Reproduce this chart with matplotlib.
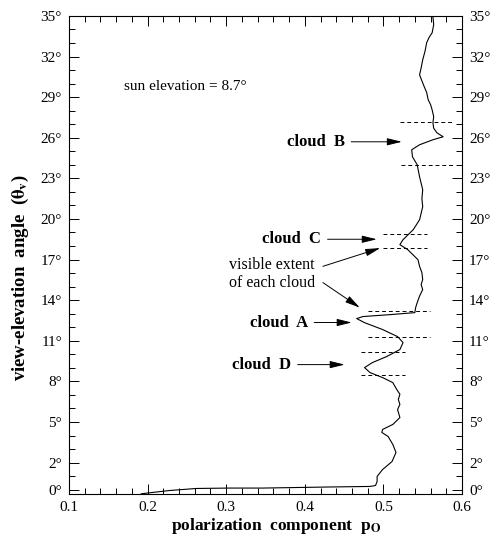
import numpy as np
import matplotlib
matplotlib.use('Agg')
import matplotlib.pyplot as plt
from matplotlib.ticker import FixedLocator, MultipleLocator

plt.rcParams['font.family'] = ['Liberation Serif', 'DejaVu Serif']
plt.rcParams['mathtext.fontset'] = 'stix'

# profile: view-elevation angle (deg) vs polarization p_O
theta = [-0.30, -0.06, 0.09, 0.12, 0.12, 0.20, 0.24, 0.31, 0.61, 0.98, 1.49, 2.08,
         2.75, 3.34, 3.93, 4.23, 4.45, 4.82, 5.33, 5.92, 6.30, 6.66, 7.05, 7.40,
         7.91, 8.28, 8.65, 9.02, 9.39, 9.83, 10.35, 10.87, 11.31, 11.83, 12.34,
         12.64, 12.79, 12.93, 13.08, 13.45, 13.82, 14.30, 14.78, 15.15, 15.52,
         16.03, 16.50, 16.99, 17.73, 18.10, 18.47, 19.21, 19.94, 20.90, 21.50,
         22.16, 23.12, 24.00, 24.59, 25.11, 25.48, 25.85, 26.07, 26.37, 26.70,
         27.10, 27.55, 28.06, 28.45, 28.80, 29.35, 29.76, 30.20, 30.65, 31.15,
         31.75, 32.40, 33.01, 33.40, 33.75, 34.35, 34.93]
p_o = [0.192, 0.228, 0.262, 0.304, 0.346, 0.432, 0.483, 0.490, 0.492, 0.492,
       0.499, 0.511, 0.516, 0.512, 0.506, 0.498, 0.499, 0.512, 0.521, 0.518,
       0.521, 0.519, 0.521, 0.517, 0.512, 0.499, 0.483, 0.476, 0.486, 0.504,
       0.521, 0.525, 0.518, 0.499, 0.476, 0.466, 0.474, 0.508, 0.540, 0.541,
       0.543, 0.546, 0.550, 0.548, 0.550, 0.549, 0.546, 0.544, 0.531, 0.521,
       0.525, 0.538, 0.546, 0.550, 0.549, 0.550, 0.546, 0.543, 0.537, 0.536,
       0.546, 0.563, 0.576, 0.568, 0.564, 0.563, 0.564, 0.562, 0.560, 0.557,
       0.555, 0.552, 0.549, 0.546, 0.548, 0.550, 0.553, 0.555, 0.558, 0.562,
       0.564, 0.563]

# visible extent of each cloud (dashed lines): angle, p start, p end
extent_theta = [27.18, 24.00, 18.90, 17.88, 13.23, 11.31, 10.20, 8.50]
extent_p0 = [0.521, 0.523, 0.499, 0.499, 0.480, 0.480, 0.472, 0.472]
extent_p1 = [0.589, 0.589, 0.555, 0.555, 0.559, 0.559, 0.527, 0.527]

cloud_names = ['cloud  B', 'cloud  C', 'cloud  A', 'cloud  D']
cloud_theta = [25.7, 18.5, 12.35, 9.24]
cloud_text_p = [0.451, 0.421, 0.404, 0.383]
cloud_arrow_p = [0.5235, 0.4916, 0.4597, 0.4508]

yticks = [0, 2, 5, 8, 11, 14, 17, 20, 23, 26, 29, 32, 35]
xticks = [0.1, 0.2, 0.3, 0.4, 0.5, 0.6]

fig = plt.figure(figsize=(5.0, 5.48), dpi=100)
ax = fig.add_axes([0.138, 0.0985, 0.786, 0.8725])

ax.plot(p_o, theta, color='black', lw=0.8)
ax.hlines(extent_theta, extent_p0, extent_p1, colors='black', lw=0.7,
          linestyles=(0, (4, 3)))

arrow = dict(arrowstyle='-|>,head_length=0.9,head_width=0.22',
             color='black', lw=0.7, shrinkA=0, shrinkB=0)
for name, th, tp, ap in zip(cloud_names, cloud_theta, cloud_text_p, cloud_arrow_p):
    ax.annotate('', xy=(ap, th), xytext=(tp + 0.008, th), arrowprops=arrow)
    ax.text(tp, th, name, ha='right', va='center', fontsize=12, fontweight='bold')

ax.text(0.358, 16.6, 'visible extent', ha='center', va='center', fontsize=11.5)
ax.text(0.358, 15.3, 'of each cloud', ha='center', va='center', fontsize=11.5)
ax.annotate('', xy=(0.496, 17.85), xytext=(0.423, 16.5), arrowprops=arrow)
ax.annotate('', xy=(0.470, 13.45), xytext=(0.423, 15.3), arrowprops=arrow)

ax.text(0.170, 29.76, 'sun elevation = 8.7°', ha='left', va='center', fontsize=11)

ax.set_xlim(0.1, 0.6)
ax.set_ylim(-0.32, 35)
ax.xaxis.set_major_locator(FixedLocator(xticks))
ax.xaxis.set_minor_locator(MultipleLocator(0.02))
ax.yaxis.set_major_locator(FixedLocator(yticks))
ax.yaxis.set_minor_locator(MultipleLocator(1))
ax.set_xticklabels([f'{v:.1f}' for v in xticks])
ax.set_yticklabels([f'{v}°' for v in yticks])
ax.tick_params(which='both', direction='in', top=True, right=True,
               labelright=True, labelsize=11, width=0.7)
ax.tick_params(which='major', length=7, pad=5)
ax.tick_params(which='minor', length=4)
for s in ax.spines.values():
    s.set_linewidth(0.8)

ax.set_xlabel(r'polarization  component  p$_\mathbf{O}$', fontsize=12.5,
              fontweight='bold')
ax.xaxis.set_label_coords(0.527, -0.047)
ax.set_ylabel(r'view-elevation  angle  ($\mathbf{\theta}_\mathbf{v}$)', fontsize=13.5,
              fontweight='bold')
ax.yaxis.set_label_coords(-0.097, 0.452)

fig.savefig('out.png', dpi=100)
